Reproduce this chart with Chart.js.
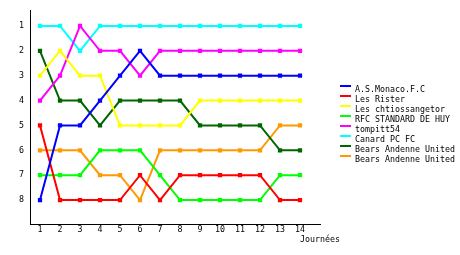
<!DOCTYPE html>
<html>
<head>
<meta charset="utf-8">
<script src="https://cdn.jsdelivr.net/npm/chart.js@4"></script>
<style>
    html, body { margin: 0; padding: 0; background: #fff; }
    #wrap { width: 460px; height: 255px; }
</style>
</head>
<body>
<div id="wrap"><canvas id="rankChart"></canvas></div>
<script>
// journées (matchdays) and ranking per team
const days = [1, 2, 3, 4, 5, 6, 7, 8, 9, 10, 11, 12, 13, 14];
const rankTicks = [1, 2, 3, 4, 5, 6, 7, 8];
const teams = ["A.S.Monaco.F.C", "Les Rister", "Les chtiossangetor", "RFC STANDARD DE HUY",
    "tompitt54", "Canard PC FC", "Bears Andenne United", "Bears Andenne United"];
const colors = ["#0000ff", "#ff0000", "#ffff00", "#00ff00", "#ff00ff", "#00ffff", "#006600", "#ff9900"];

const monaco   = [8, 5, 5, 4, 3, 2, 3, 3, 3, 3, 3, 3, 3, 3];
const rister   = [5, 8, 8, 8, 8, 7, 8, 7, 7, 7, 7, 7, 8, 8];
const chtioss  = [3, 2, 3, 3, 5, 5, 5, 5, 4, 4, 4, 4, 4, 4];
const rfcHuy   = [7, 7, 7, 6, 6, 6, 7, 8, 8, 8, 8, 8, 7, 7];
const tompitt  = [4, 3, 1, 2, 2, 3, 2, 2, 2, 2, 2, 2, 2, 2];
const canard   = [1, 1, 2, 1, 1, 1, 1, 1, 1, 1, 1, 1, 1, 1];
const bears1   = [2, 4, 4, 5, 4, 4, 4, 4, 5, 5, 5, 5, 6, 6];
const bears2   = [6, 6, 6, 7, 7, 8, 6, 6, 6, 6, 6, 6, 5, 5];
const allRanks = [monaco, rister, chtioss, rfcHuy, tompitt, canard, bears1, bears2];

const FONT = "'DejaVu Sans Mono', monospace";

const datasets = allRanks.map((ranks, i) => ({
    label: teams[i],
    data: ranks.map((r, j) => ({x: days[j], y: r})),
    borderColor: colors[i],
    backgroundColor: colors[i],
    borderWidth: 2,
    pointStyle: 'rect',
    pointRadius: 1.6,
    pointHoverRadius: 1.6,
    tension: 0
}));

// legend + axis title drawn by hand so they land where the original has them
const extras = {
    id: 'extras',
    afterDraw(chart) {
        const ctx = chart.ctx;
        ctx.save();
        ctx.font = "8.3px " + FONT;
        ctx.textBaseline = 'alphabetic';
        ctx.textAlign = 'left';
        chart.data.datasets.forEach((ds, i) => {
            const y = 86 + i * 10;
            ctx.fillStyle = ds.borderColor;
            ctx.fillRect(340, y - 1, 11, 2);
            ctx.fillStyle = '#000';
            ctx.fillText(ds.label, 355, y + 6);
        });
        ctx.fillText("Journées", 300, 242);
        ctx.restore();
    }
};

const rankChart = new Chart(document.getElementById('rankChart').getContext('2d'), {
    type: 'line',
    data: { datasets: datasets },
    options: {
        responsive: true,
        maintainAspectRatio: false,
        animation: false,
        events: [],
        layout: { padding: { top: 10, right: 140, left: 0, bottom: 0 } },
        plugins: { legend: { display: false }, tooltip: { enabled: false } },
        scales: {
            x: {
                type: 'linear',
                min: 0.5,
                max: 15,
                afterBuildTicks: (scale) => { scale.ticks = days.map(v => ({value: v})); },
                afterFit: (scale) => { scale.height = 30; },
                grid: { display: false, drawTicks: false },
                border: { display: true, color: '#000', width: 1 },
                ticks: { color: '#000', font: { family: FONT, size: 8.3 }, padding: 0, maxRotation: 0, autoSkip: false }
            },
            y: {
                type: 'linear',
                reverse: true,
                min: 0.4,
                max: 9,
                afterBuildTicks: (scale) => { scale.ticks = rankTicks.map(v => ({value: v})); },
                afterFit: (scale) => { scale.width = 30; },
                grid: { display: false, drawTicks: false },
                border: { display: true, color: '#000', width: 1 },
                ticks: { color: '#000', font: { family: FONT, size: 8.3 }, padding: 6 }
            }
        }
    },
    plugins: [extras]
});
</script>
</body>
</html>
